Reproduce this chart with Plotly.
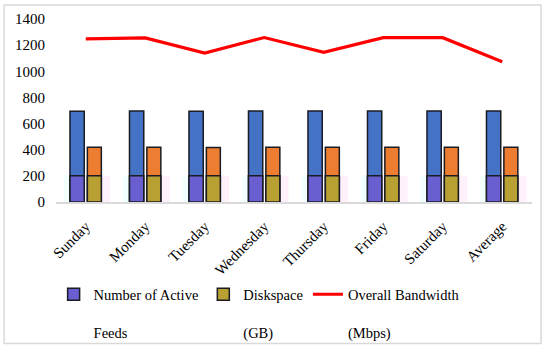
import plotly.graph_objects as go

days = ["Sunday", "Monday", "Tuesday", "Wednesday", "Thursday", "Friday", "Saturday", "Average"]
active_feeds = [695, 697, 695, 697, 697, 697, 697, 697]
diskspace_gb = [418, 418, 417, 418, 418, 418, 418, 418]
bandwidth_mbps = [1248, 1255, 1140, 1258, 1145, 1257, 1257, 1073]
overlay_level = [200] * len(days)

SERIF = "Liberation Serif, Times New Roman, serif"

fig = go.Figure()

# faint tinted backdrop bands (0-200)
fig.add_trace(go.Bar(x=days, y=overlay_level, offset=-0.37, width=0.37,
                     marker=dict(color="rgba(200,255,255,0.25)", line=dict(width=0)),
                     showlegend=False, hoverinfo="skip"))
fig.add_trace(go.Bar(x=days, y=overlay_level, offset=0.0, width=0.41,
                     marker=dict(color="rgba(255,200,245,0.25)", line=dict(width=0)),
                     showlegend=False, hoverinfo="skip"))

fig.add_trace(go.Bar(x=days, y=active_feeds, offset=-0.265, width=0.24,
                     marker=dict(color="#4472C4", line=dict(color="#1b1b24", width=1.5)),
                     showlegend=False))
fig.add_trace(go.Bar(x=days, y=diskspace_gb, offset=0.027, width=0.235,
                     marker=dict(color="#ED7D31", line=dict(color="#1b1b24", width=1.5)),
                     showlegend=False))

# tinted lower portions (also provide the legend swatches)
fig.add_trace(go.Bar(x=days, y=overlay_level, offset=-0.265, width=0.24,
                     name="Number of Active<br><br>Feeds",
                     marker=dict(color="#6a5fd0", line=dict(color="#1b1b24", width=1.5))))
fig.add_trace(go.Bar(x=days, y=overlay_level, offset=0.027, width=0.235,
                     name="Diskspace<br><br>(GB)",
                     marker=dict(color="#b8a032", line=dict(color="#1b1b24", width=1.5))))

fig.add_trace(go.Scatter(x=days, y=bandwidth_mbps, mode="lines",
                         name="Overall Bandwidth<br><br>(Mbps)",
                         line=dict(color="#FF0000", width=3.2)))

fig.update_layout(
    width=550, height=352,
    barmode="overlay",
    paper_bgcolor="white", plot_bgcolor="white",
    margin=dict(l=56, r=18, t=19, b=149.7, autoexpand=False),
    font=dict(family=SERIF, size=15, color="#000000"),
    xaxis=dict(tickangle=-45, showgrid=False, showline=True, linecolor="#d9d9d9",
               linewidth=1.5, ticks="", automargin=False, ticklabelstandoff=8,
               tickfont=dict(family=SERIF, size=15)),
    yaxis=dict(range=[0, 1400], dtick=200, showgrid=False, zeroline=False,
               showline=False, ticks="", automargin=False, ticklabelstandoff=10,
               tickfont=dict(family=SERIF, size=15)),
    legend=dict(orientation="h", x=-0.005, xanchor="left", y=-0.417, yanchor="top",
                valign="top", font=dict(family=SERIF, size=14.5), itemwidth=30,
                tracegroupgap=0, bgcolor="rgba(0,0,0,0)"),
    shapes=[dict(type="rect", xref="paper", yref="paper",
                 x0=-0.109, x1=1.019, y0=-0.773, y1=1.076,
                 line=dict(color="#d9d9d9", width=1.5), layer="below")],
)

fig.write_html("out.html", config={"displayModeBar": False},
               post_script="document.body.style.margin='0';document.body.style.padding='0';")
